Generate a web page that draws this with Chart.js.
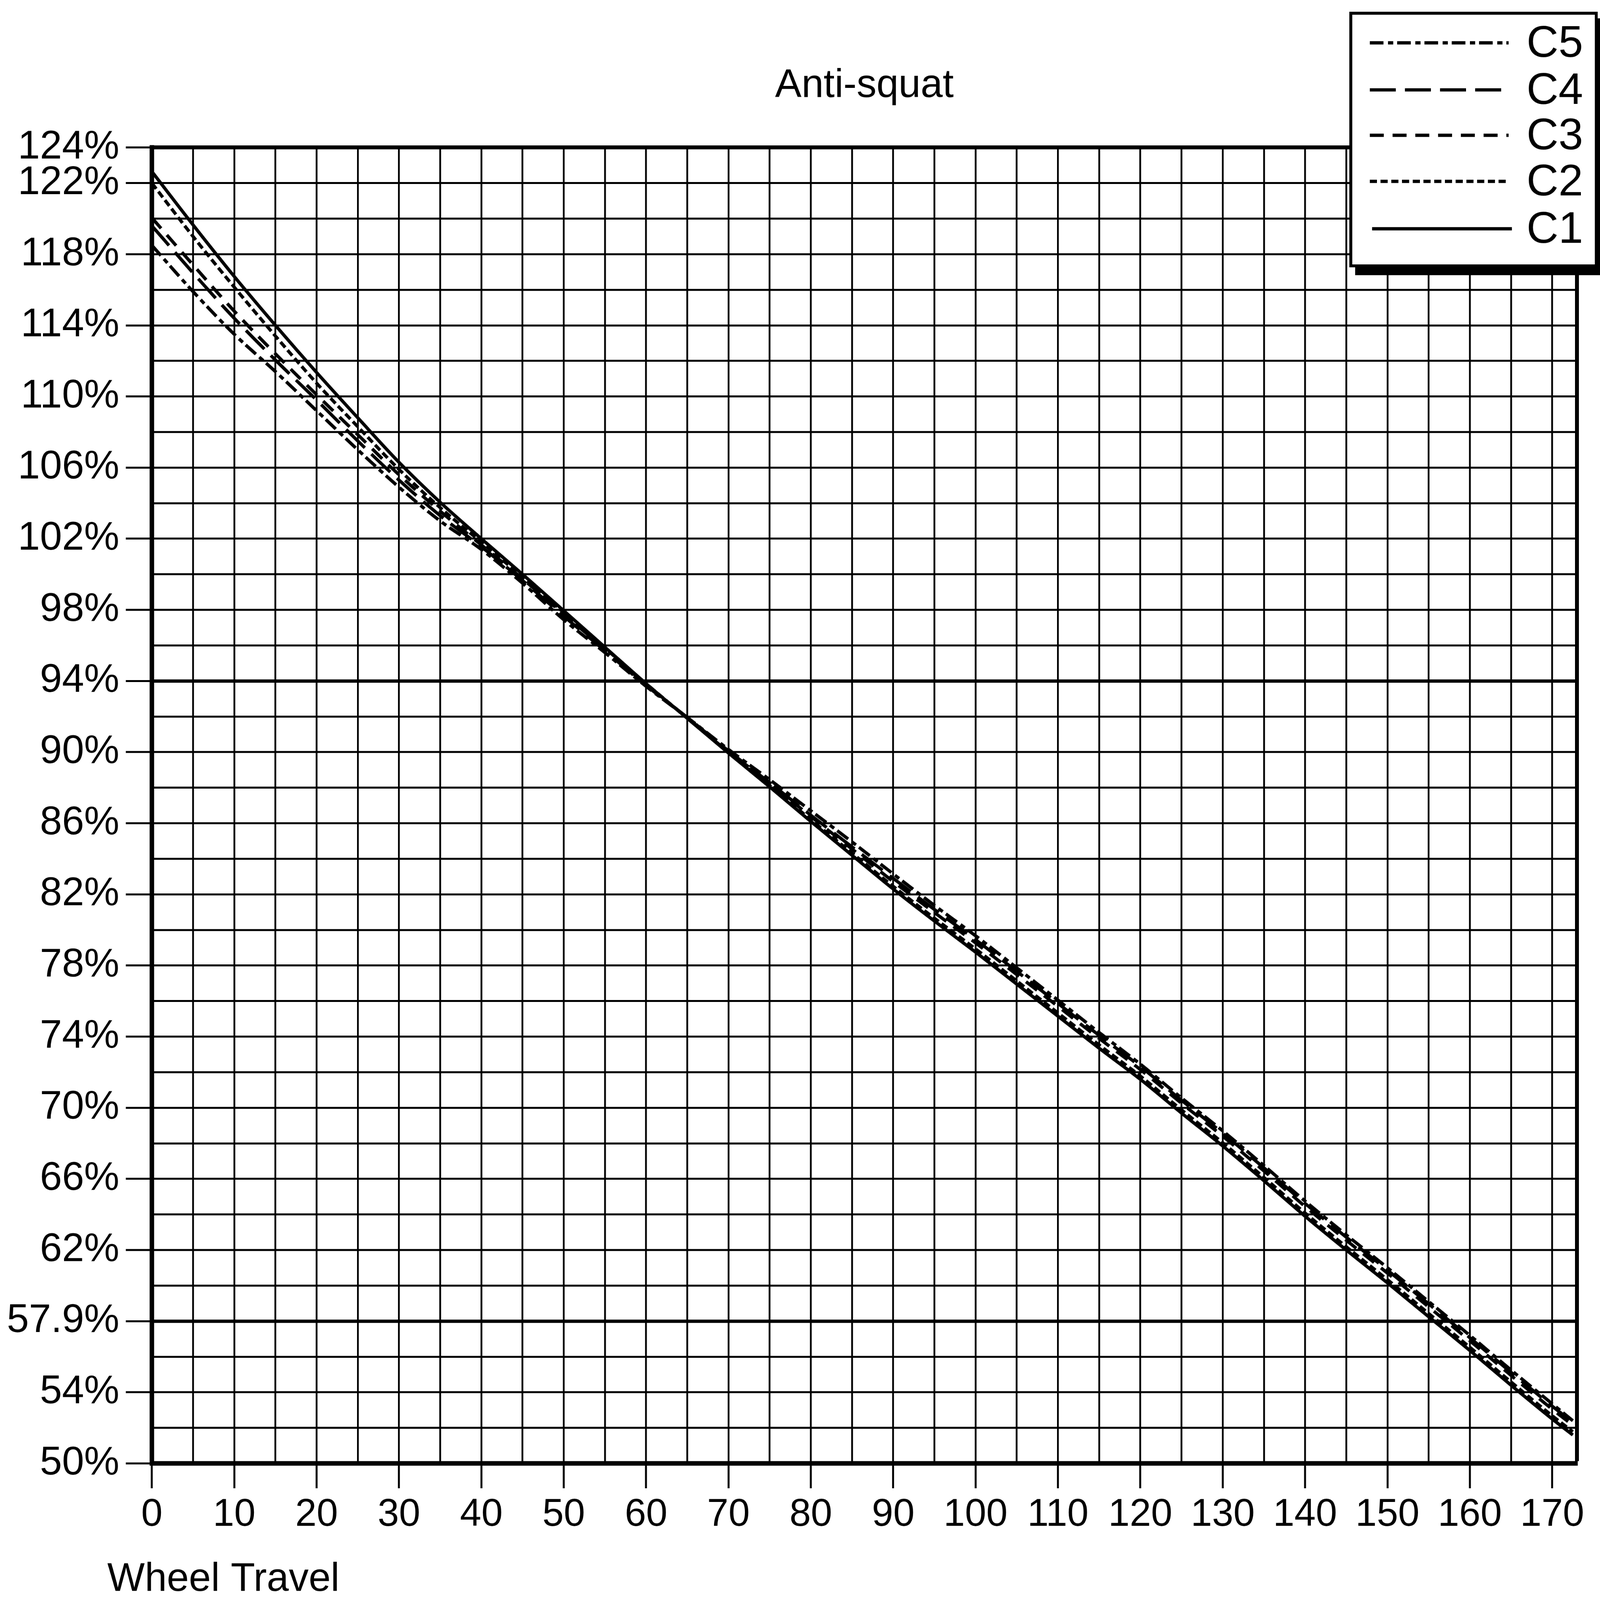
<!DOCTYPE html>
<html>
<head>
<meta charset="utf-8">
<script src="https://cdn.jsdelivr.net/npm/chart.js@4.4.1/dist/chart.umd.min.js"></script>
<style>
html,body{margin:0;padding:0;background:#fff;overflow:hidden;}
canvas{display:block;}
</style>
</head>
<body>
<canvas id="c" width="4921" height="4896" style="width:100vw;height:100vh;"></canvas>
<script>
// ---- data ----
const wheelTravel = [0,5,10,15,20,25,30,35,40,45,50,55,60,65,70,75,80,85,90,95,100,105,110,115,120,125,130,135,140,145,150,155,160,165,170,172.5];
const c1 = [122.65,119.65,116.75,114.0,111.35,108.8,106.3,104.05,102.0,100.0,97.95,95.9,93.85,91.9,89.95,88.05,86.1,84.2,82.3,80.5,78.75,76.95,75.15,73.35,71.6,69.7,67.85,65.9,63.9,62.0,60.15,58.25,56.35,54.4,52.5,51.6];
const c2 = [122.0,119.0,116.15,113.4,110.75,108.3,105.9,103.75,101.8,99.85,97.85,95.85,93.85,91.92,90.0,88.12,86.2,84.32,82.45,80.66,78.93,77.13,75.33,73.53,71.78,69.88,68.03,66.08,64.08,62.18,60.33,58.43,56.53,54.58,52.68,51.78];
const c3 = [120.05,117.4,114.8,112.4,110.1,107.85,105.6,103.55,101.65,99.75,97.75,95.8,93.8,91.93,90.05,88.25,86.38,84.55,82.72,80.98,79.27,77.49,75.7,73.9,72.15,70.25,68.4,66.45,64.45,62.55,60.7,58.8,56.9,54.95,53.05,52.15];
const c4 = [119.6,116.95,114.4,112.05,109.8,107.5,105.3,103.3,101.55,99.65,97.65,95.7,93.75,91.95,90.07,88.28,86.45,84.67,82.9,81.15,79.45,77.67,75.87,74.07,72.32,70.42,68.57,66.62,64.62,62.72,60.87,58.97,57.07,55.12,53.22,52.32];
const c5 = [118.5,115.9,113.5,111.4,109.2,107.0,104.9,103.0,101.4,99.5,97.45,95.6,93.7,91.95,90.15,88.45,86.7,84.95,83.15,81.38,79.67,77.87,76.05,74.23,72.45,70.55,68.7,66.75,64.75,62.85,61.0,59.1,57.2,55.25,53.35,52.4];
const seriesLabels = ['C1','C2','C3','C4','C5'];

const xGridValues = [0,5,10,15,20,25,30,35,40,45,50,55,60,65,70,75,80,85,90,95,100,105,110,115,120,125,130,135,140,145,150,155,160,165,170];
const xTickValues = [0,10,20,30,40,50,60,70,80,90,100,110,120,130,140,150,160,170];
const xTickLabels = ['0','10','20','30','40','50','60','70','80','90','100','110','120','130','140','150','160','170'];
const xMin = 0, xMax = 173;

const yGridValues = [50,52,54,56,58,60,62,64,66,68,70,72,74,76,78,80,82,84,86,88,90,92,94,96,98,100,102,104,106,108,110,112,114,116,118,120,122,124];
const yTickValues = [50,54,58,62,66,70,74,78,82,86,90,94,98,102,106,110,114,118,122,124];
const yTickLabels = ['50%','54%','57.9%','62%','66%','70%','74%','78%','82%','86%','90%','94%','98%','102%','106%','110%','114%','118%','122%','124%'];
const yMin = 50, yMax = 124;

const chartTitle = 'Anti-squat';
const xAxisTitle = 'Wheel Travel';

// ---- styles ----
const FONT = "'Liberation Sans', Arial, sans-serif";
const dashes = [[], [22,11], [43,27], [80,28], [42,14,16,12]];
const seriesData = [c1, c2, c3, c4, c5];

const datasets = seriesLabels.map((lab, i) => ({
  label: lab,
  data: wheelTravel.map((x, j) => ({x: x, y: seriesData[i][j]})),
  borderColor: '#000',
  backgroundColor: '#000',
  borderWidth: 10,
  borderDash: dashes[i],
  pointRadius: 0,
  pointHoverRadius: 0,
  fill: false,
  cubicInterpolationMode: 'monotone'
}));

const legendBox = {
  id: 'legendBox',
  afterDraw(chart) {
    const ctx = chart.ctx;
    ctx.save();
    // shadow
    ctx.fillStyle = '#000';
    ctx.fillRect(4168, 56, 770, 786);
    // box
    ctx.fillStyle = '#fff';
    ctx.fillRect(4150, 36, 764, 782);
    ctx.strokeStyle = '#000';
    ctx.lineWidth = 9;
    ctx.strokeRect(4154.5, 40.5, 755, 773);
    const rows = [131, 275, 414, 555, 700];
    const order = [4, 3, 2, 1, 0];
    ctx.font = '136px ' + FONT;
    ctx.textBaseline = 'middle';
    ctx.textAlign = 'left';
    order.forEach((di, r) => {
      const ds = chart.data.datasets[di];
      const y = rows[r];
      ctx.beginPath();
      ctx.setLineDash(ds.borderDash || []);
      ctx.lineWidth = 10;
      ctx.strokeStyle = '#000';
      ctx.moveTo(di === 0 ? 4220 : 4213, y);
      ctx.lineTo(di === 0 ? 4650 : 4640, y);
      ctx.stroke();
      ctx.setLineDash([]);
      ctx.fillStyle = '#000';
      ctx.fillText(ds.label, 4695, y + 5);
    });
    // x axis caption
    ctx.font = '122px ' + FONT;
    ctx.textBaseline = 'alphabetic';
    ctx.textAlign = 'left';
    ctx.fillStyle = '#000';
    ctx.fillText(xAxisTitle, 330, 4868);
    ctx.restore();
  }
};

new Chart(document.getElementById('c'), {
  type: 'line',
  data: { datasets: datasets },
  options: {
    responsive: false,
    devicePixelRatio: 1,
    animation: false,
    events: [],
    layout: { padding: { left: 0, right: 71, top: 0, bottom: 0 } },
    plugins: {
      legend: { display: false },
      tooltip: { enabled: false },
      title: {
        display: true,
        text: chartTitle,
        color: '#000',
        fullSize: false,
        font: { family: FONT, size: 122, weight: 'normal', lineHeight: 1.2 },
        padding: { top: 190, bottom: 115 }
      }
    },
    scales: {
      x: {
        type: 'linear',
        min: xMin,
        max: xMax,
        afterBuildTicks: s => { s.ticks = xGridValues.concat([xMax]).map(v => ({value: v})); },
        afterFit: s => { s.height = 418; },
        grid: {
          color: '#000',
          lineWidth: c => (c.tick && c.tick.value === xMax) ? 12 : 5.5,
          tickLength: 76,
          tickWidth: 6,
          tickColor: c => (c.tick && xTickValues.includes(c.tick.value)) ? '#000' : 'rgba(0,0,0,0)'
        },
        border: { display: true, color: '#000', width: 14 },
        ticks: {
          autoSkip: false,
          maxRotation: 0,
          minRotation: 0,
          padding: 12,
          color: '#000',
          font: { family: FONT, size: 118 },
          callback: v => { const i = xTickValues.indexOf(v); return i >= 0 ? xTickLabels[i] : ''; }
        }
      },
      y: {
        type: 'linear',
        min: yMin,
        max: yMax,
        afterBuildTicks: s => { s.ticks = yGridValues.map(v => ({value: v})); },
        afterFit: s => { s.width = 467; },
        grid: {
          color: '#000',
          lineWidth: c => {
            const v = c.tick ? c.tick.value : null;
            if (v === yMax) return 12;
            if (v === 94 || v === 58) return 10;
            return 6;
          },
          tickLength: 80,
          tickWidth: 6,
          tickColor: c => (c.tick && yTickValues.includes(c.tick.value)) ? '#000' : 'rgba(0,0,0,0)'
        },
        border: { display: true, color: '#000', width: 14 },
        ticks: {
          autoSkip: false,
          padding: 20,
          color: '#000',
          font: { family: FONT, size: 122 },
          callback: v => { const i = yTickValues.indexOf(v); return i >= 0 ? yTickLabels[i] : ''; }
        }
      }
    }
  },
  plugins: [legendBox]
});
</script>
</body>
</html>
